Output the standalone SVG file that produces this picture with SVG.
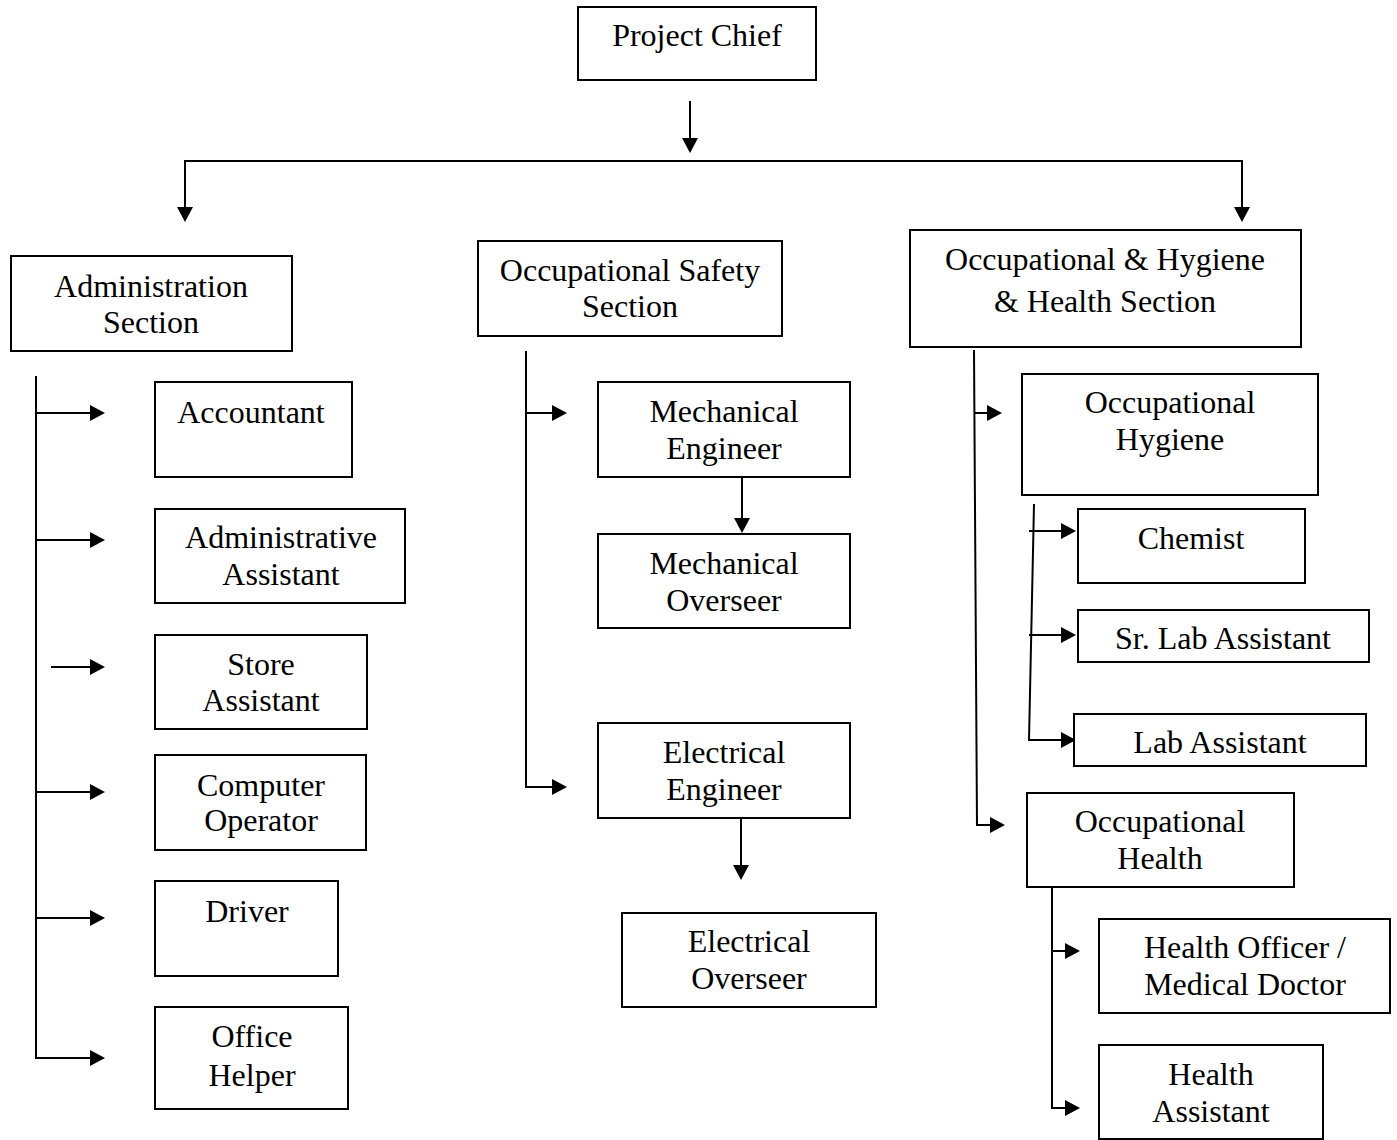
<svg xmlns="http://www.w3.org/2000/svg" width="1397" height="1140" viewBox="0 0 1397 1140">
<style>
.box{fill:#fff;stroke:#000;stroke-width:2}
.t{font-family:"Liberation Serif","Times New Roman",serif;font-size:32px;fill:#000;text-anchor:middle}
.c{fill:none;stroke:#000;stroke-width:2}
</style>
<defs>
<marker id="ah" markerUnits="userSpaceOnUse" markerWidth="16" markerHeight="18" refX="0" refY="8" orient="auto" viewBox="0 0 16 16">
<path d="M0,0 L15,8 L0,16 z" fill="#000"/>
</marker>
</defs>
<rect width="1397" height="1140" fill="#fff"/>
<g id="connectors">
<line class="c" x1="690" y1="101" x2="690" y2="138" marker-end="url(#ah)"/>
<polyline class="c" points="185,207 185,161 1242,161 1242,207" />
<line class="c" x1="185" y1="200" x2="185" y2="207" marker-end="url(#ah)"/>
<line class="c" x1="1242" y1="200" x2="1242" y2="207" marker-end="url(#ah)"/>
<!-- admin -->
<polyline class="c" points="36,376 36,1058 90,1058" marker-end="url(#ah)"/>
<line class="c" x1="36" y1="413" x2="90" y2="413" marker-end="url(#ah)"/>
<line class="c" x1="36" y1="540" x2="90" y2="540" marker-end="url(#ah)"/>
<line class="c" x1="51" y1="667" x2="90" y2="667" marker-end="url(#ah)"/>
<line class="c" x1="36" y1="792" x2="90" y2="792" marker-end="url(#ah)"/>
<line class="c" x1="36" y1="918" x2="90" y2="918" marker-end="url(#ah)"/>
<!-- safety -->
<polyline class="c" points="526,351 526,787 552,787" marker-end="url(#ah)"/>
<line class="c" x1="526" y1="413" x2="552" y2="413" marker-end="url(#ah)"/>
<line class="c" x1="742" y1="470" x2="742" y2="518" marker-end="url(#ah)"/>
<line class="c" x1="741" y1="818" x2="741" y2="865" marker-end="url(#ah)"/>
<!-- health -->
<polyline class="c" points="974,350 977,825 990,825" marker-end="url(#ah)"/>
<line class="c" x1="974" y1="413" x2="987" y2="413" marker-end="url(#ah)"/>
<polyline class="c" points="1034,504 1029,740 1061,740" marker-end="url(#ah)"/>
<line class="c" x1="1029" y1="531" x2="1061" y2="531" marker-end="url(#ah)"/>
<line class="c" x1="1029" y1="635" x2="1061" y2="635" marker-end="url(#ah)"/>
<polyline class="c" points="1052,887 1052,1108 1065,1108" marker-end="url(#ah)"/>
<line class="c" x1="1052" y1="951" x2="1065" y2="951" marker-end="url(#ah)"/>
</g>
<g id="project-chief"><rect class="box" x="578" y="7" width="238" height="73"/><text class="t" x="697" y="46">Project Chief</text></g>
<g id="administration-section"><rect class="box" x="11" y="256" width="281" height="95"/><text class="t" x="151" y="297">Administration</text><text class="t" x="151" y="333">Section</text></g>
<g id="occupational-safety-section"><rect class="box" x="478" y="241" width="304" height="95"/><text class="t" x="630" y="281">Occupational Safety</text><text class="t" x="630" y="317">Section</text></g>
<g id="occupational-hygiene-health-section"><rect class="box" x="910" y="230" width="391" height="117"/><text class="t" x="1105" y="270">Occupational &amp; Hygiene</text><text class="t" x="1105" y="312">&amp; Health Section</text></g>
<g id="accountant"><rect class="box" x="155" y="382" width="197" height="95"/><text class="t" x="251" y="423">Accountant</text></g>
<g id="administrative-assistant"><rect class="box" x="155" y="509" width="250" height="94"/><text class="t" x="281" y="548">Administrative</text><text class="t" x="281" y="585">Assistant</text></g>
<g id="store-assistant"><rect class="box" x="155" y="635" width="212" height="94"/><text class="t" x="261" y="675">Store</text><text class="t" x="261" y="711">Assistant</text></g>
<g id="computer-operator"><rect class="box" x="155" y="755" width="211" height="95"/><text class="t" x="261" y="796">Computer</text><text class="t" x="261" y="831">Operator</text></g>
<g id="driver"><rect class="box" x="155" y="881" width="183" height="95"/><text class="t" x="247" y="922">Driver</text></g>
<g id="office-helper"><rect class="box" x="155" y="1007" width="193" height="102"/><text class="t" x="252" y="1047">Office</text><text class="t" x="252" y="1086">Helper</text></g>
<g id="mechanical-engineer"><rect class="box" x="598" y="382" width="252" height="95"/><text class="t" x="724" y="422">Mechanical</text><text class="t" x="724" y="459">Engineer</text></g>
<g id="mechanical-overseer"><rect class="box" x="598" y="534" width="252" height="94"/><text class="t" x="724" y="574">Mechanical</text><text class="t" x="724" y="611">Overseer</text></g>
<g id="electrical-engineer"><rect class="box" x="598" y="723" width="252" height="95"/><text class="t" x="724" y="763">Electrical</text><text class="t" x="724" y="800">Engineer</text></g>
<g id="electrical-overseer"><rect class="box" x="622" y="913" width="254" height="94"/><text class="t" x="749" y="952">Electrical</text><text class="t" x="749" y="989">Overseer</text></g>
<g id="occupational-hygiene"><rect class="box" x="1022" y="374" width="296" height="121"/><text class="t" x="1170" y="413">Occupational</text><text class="t" x="1170" y="450">Hygiene</text></g>
<g id="chemist"><rect class="box" x="1078" y="509" width="227" height="74"/><text class="t" x="1191" y="549">Chemist</text></g>
<g id="sr-lab-assistant"><rect class="box" x="1078" y="610" width="291" height="52"/><text class="t" x="1223" y="649">Sr. Lab Assistant</text></g>
<g id="lab-assistant"><rect class="box" x="1074" y="714" width="292" height="52"/><text class="t" x="1220" y="753">Lab Assistant</text></g>
<g id="occupational-health"><rect class="box" x="1027" y="793" width="267" height="94"/><text class="t" x="1160" y="832">Occupational</text><text class="t" x="1160" y="869">Health</text></g>
<g id="health-officer"><rect class="box" x="1099" y="919" width="291" height="94"/><text class="t" x="1245" y="958">Health Officer /</text><text class="t" x="1245" y="995">Medical Doctor</text></g>
<g id="health-assistant"><rect class="box" x="1099" y="1045" width="224" height="94"/><text class="t" x="1211" y="1085">Health</text><text class="t" x="1211" y="1122">Assistant</text></g>
</svg>
